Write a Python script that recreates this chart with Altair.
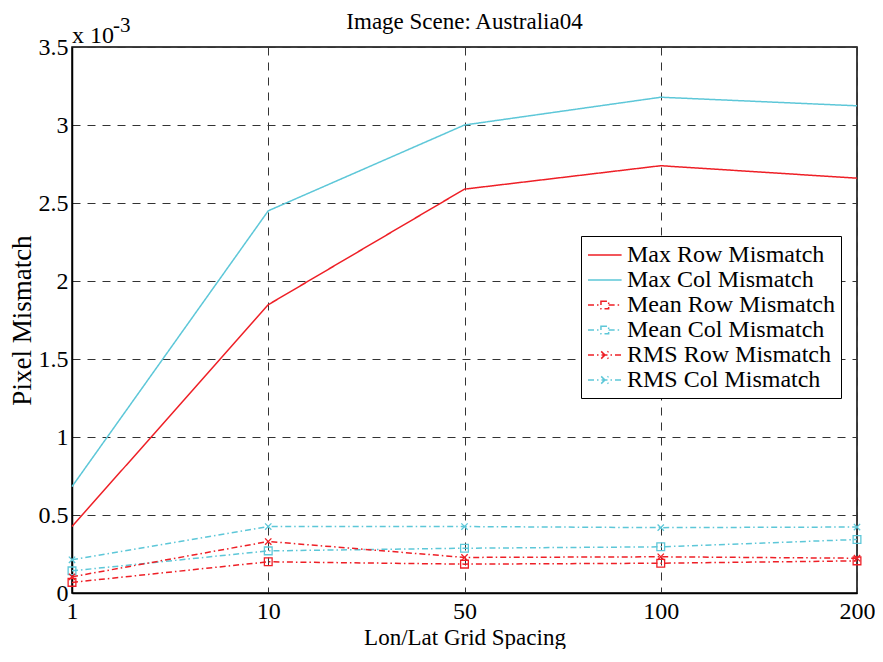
import altair as alt
import pandas as pd

# ---- data (values in units of 1e-3) ----
x_labels = ["1", "10", "50", "100", "200"]
series_names = [
    "Max Row Mismatch", "Max Col Mismatch",
    "Mean Row Mismatch", "Mean Col Mismatch",
    "RMS Row Mismatch", "RMS Col Mismatch",
]
max_row = [0.426, 1.848, 2.589, 2.739, 2.659]
max_col = [0.682, 2.450, 3.000, 3.178, 3.123]
mean_row = [0.068, 0.200, 0.185, 0.191, 0.206]
mean_col = [0.142, 0.270, 0.287, 0.296, 0.343]
rms_row = [0.104, 0.330, 0.228, 0.232, 0.223]
rms_col = [0.213, 0.426, 0.426, 0.419, 0.423]
y_ticks = [0, 0.5, 1, 1.5, 2, 2.5, 3, 3.5]
title_text = "Image Scene: Australia04"

all_series = [max_row, max_col, mean_row, mean_col, rms_row, rms_col]
rows = []
for name, vals in zip(series_names, all_series):
    for xl, v in zip(x_labels, vals):
        rows.append({"spacing": xl, "value": v, "series": name})
df = pd.DataFrame(rows)

RED = "#ee1f26"
CYAN = "#5dc7d8"
FONT = "Liberation Serif"
colors = [RED, CYAN, RED, CYAN, RED, CYAN]
dashdot = [6, 3, 1.5, 3]
dashes = [[1, 0], [1, 0], dashdot, dashdot, dashdot, dashdot]

X_PATH = "M-1,-1L1,1M-1,1L1,-1"
leg_line = "M-1,0L1.8,0"
leg_square = "M-1,0L0.08,0M0.08,-0.32L0.72,-0.32L0.72,0.32L0.08,0.32ZM0.72,0L1.8,0"
leg_x = "M-1,0L1.8,0M0.1,-0.3L0.7,0.3M0.1,0.3L0.7,-0.3"
leg_shapes = [leg_line, leg_line, leg_square, leg_square, leg_x, leg_x]

W, H = 785, 546

x_enc = alt.X(
    "spacing:N",
    sort=x_labels,
    scale=alt.Scale(type="point", domain=x_labels, padding=0),
    axis=alt.Axis(
        title="Lon/Lat Grid Spacing", titleX=W / 2, titleY=51,
        titleBaseline="alphabetic", titleAlign="center", titleFontSize=23,
        labelAngle=0, labelBaseline="alphabetic", labelPadding=25,
        ticks=False, tickSize=0, grid=True,
    ),
)
y_enc = alt.Y(
    "value:Q",
    scale=alt.Scale(domain=[0, 3.5], nice=False, zero=True),
    axis=alt.Axis(
        title="Pixel Mismatch", titleX=-50, titleY=H / 2,
        titleAngle=270, titleAlign="center", titleBaseline="middle",
        titleFontSize=27,
        values=y_ticks, format="~g", labelPadding=4,
        ticks=False, tickSize=0, grid=True,
    ),
)

color_scale = alt.Scale(domain=series_names, range=colors)
dash_scale = alt.Scale(domain=series_names, range=dashes)

leg = alt.Legend(
    title=None, orient="none", legendX=509, legendY=189,
    strokeColor="black", fillColor="white", padding=6,
    labelFont=FONT, labelFontSize=24, labelColor="black", labelOffset=14,
    rowPadding=0, symbolSize=576, symbolStrokeWidth=1.5,
    labelLimit=400,
)

color_enc = alt.Color("series:N", scale=color_scale, legend=leg)
dash_enc = alt.StrokeDash("series:N", scale=dash_scale, legend=leg)

base = alt.Chart(df)

legend_layer = base.transform_filter("false").mark_point(
    filled=False, opacity=1, strokeWidth=1.5
).encode(
    x=x_enc, y=y_enc,
    color=color_enc,
    strokeDash=dash_enc,
    shape=alt.Shape("series:N", scale=alt.Scale(domain=series_names, range=leg_shapes), legend=leg),
)

lines = base.mark_line(strokeWidth=1.5).encode(
    x=x_enc, y=y_enc,
    color=color_enc,
    strokeDash=dash_enc,
    detail="series:N",
)

mean_pts = base.transform_filter(
    alt.FieldOneOfPredicate(field="series", oneOf=[series_names[2], series_names[3]])
).mark_point(shape="square", filled=False, size=60, strokeWidth=1.3, opacity=1).encode(
    x=x_enc, y=y_enc,
    color=color_enc,
)

rms_pts = base.transform_filter(
    alt.FieldOneOfPredicate(field="series", oneOf=[series_names[4], series_names[5]])
).mark_point(shape=X_PATH, filled=False, size=40, strokeWidth=1.3, opacity=1).encode(
    x=x_enc, y=y_enc,
    color=color_enc,
)

txt_df = pd.DataFrame({"t": ["x 10"], "s": ["-3"], "title": [title_text]})
exp_main = alt.Chart(txt_df).mark_text(
    font=FONT, fontSize=24, align="left", baseline="alphabetic", color="black"
).encode(text="t:N", x=alt.value(0), y=alt.value(-4))
exp_sup = alt.Chart(txt_df).mark_text(
    font=FONT, fontSize=21, align="left", baseline="alphabetic", color="black"
).encode(text="s:N", x=alt.value(41), y=alt.value(-15))
title_mark = alt.Chart(txt_df).mark_text(
    font=FONT, fontSize=23, align="center", baseline="alphabetic", color="black"
).encode(text="title:N", x=alt.value(W / 2), y=alt.value(-18))

chart = alt.layer(
    legend_layer, lines, mean_pts, rms_pts, exp_main, exp_sup, title_mark
).properties(
    width=W, height=H,
    autosize=alt.AutoSizeParams(type="none"),
    padding={"left": 64, "top": 39, "right": 18, "bottom": 56},
    background="white",
).configure_view(
    stroke="black", strokeWidth=1.5,
).configure_axis(
    labelFont=FONT, labelFontSize=24, labelColor="black",
    titleFont=FONT, titleFontSize=24, titleFontWeight="normal", titleColor="black",
    domainColor="black", domainWidth=1.5,
    gridColor="#333333", gridDash=[8, 7], gridWidth=1, gridOpacity=1,
)

chart.save("out.html", embed_options={"renderer": "svg", "actions": False})
